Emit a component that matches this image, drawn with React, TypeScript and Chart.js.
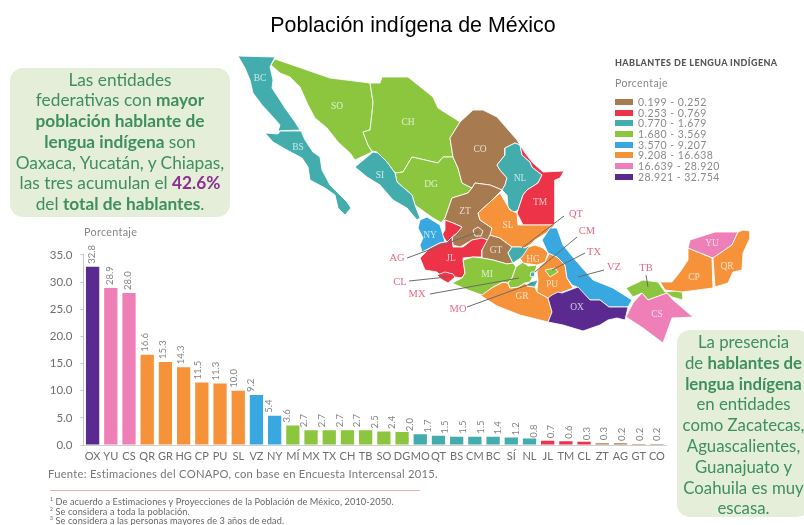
import React, { useEffect, useRef } from "react";
import Chart from "chart.js/auto";

type Pt = [number, number];

// Bar chart: share of indigenous-language speakers per state
const stateCodes = ["OX","YU","CS","QR","GR","HG","CP","PU","SL","VZ","NY","MÍ","MX","TX","CH","TB","SO","DG","MO","QT","BS","CM","BC","SÍ","NL","JL","TM","CL","ZT","AG","GT","CO"];
const speakerShare = [32.8,28.9,28.0,16.6,15.3,14.3,11.5,11.3,10.0,9.2,5.4,3.6,2.7,2.7,2.7,2.7,2.5,2.4,2.0,1.7,1.5,1.5,1.5,1.4,1.2,0.8,0.7,0.6,0.3,0.3,0.2,0.2];
// The printed figures run one entry longer than the bars and are spaced on their own axis
const printedFigures = [32.8,28.9,28.0,16.6,15.3,14.3,11.5,11.3,10.0,9.2,5.4,3.6,2.7,2.7,2.7,2.7,2.5,2.4,2.0,1.7,1.5,1.5,1.5,1.4,1.2,0.8,0.7,0.6,0.3,0.3,0.2,0.2,0.2];
const stateRange = [7,6,6,5,5,5,5,5,5,4,4,3,3,3,3,3,3,3,2,2,2,2,2,2,2,1,1,1,0,0,0,0];

// Legend classes
const rangeLabels = ["0.199 - 0.252","0.253 - 0.769","0.770 - 1.679","1.680 - 3.569","3.570 - 9.207","9.208 - 16.638","16.639 - 28.920","28.921 - 32.754"];
const rangeColors = ["#a87a50","#ec3347","#43adad","#8cc63f","#3aa8e0","#f6933a","#ee7fb7","#5a2a90"];

// State outlines in map units
const BC: Pt[] = [[238,56],[275,57],[270,67],[273,80],[272,88],[285,108],[295,122],[300,130],[278,131],[280,125],[273,117],[262,105],[253,93],[250,80],[245,68]];
const BS: Pt[] = [[265,133],[278,134],[280,131],[301,131],[305,140],[313,152],[320,157],[322,170],[330,185],[340,195],[347,202],[351,208],[345,215],[338,208],[335,195],[325,188],[310,180],[308,167],[302,158],[287,150],[273,142]];
const SO: Pt[] = [[271,65],[275,59],[330,78],[370,83],[373,102],[372,113],[370,130],[363,132],[368,145],[372,152],[355,160],[350,153],[338,142],[327,128],[315,118],[308,105],[300,87],[290,77],[280,73]];
const CH: Pt[] = [[370,83],[380,83],[382,77],[408,77],[433,97],[438,108],[460,122],[450,138],[453,157],[443,157],[438,163],[412,157],[403,172],[395,173],[387,162],[377,152],[372,151],[368,145],[363,132],[370,130],[372,113],[373,102]];
const DG: Pt[] = [[395,173],[403,172],[412,157],[438,163],[443,157],[453,157],[458,168],[462,183],[472,188],[468,193],[452,198],[445,218],[442,223],[433,218],[415,205],[412,195],[397,182]];
const SI: Pt[] = [[355,167],[373,152],[378,153],[387,162],[395,173],[397,182],[412,195],[415,205],[420,218],[417,220],[407,208],[393,200],[380,185],[367,177]];
const CO: Pt[] = [[450,138],[460,122],[473,110],[483,110],[497,117],[517,140],[520,145],[515,143],[505,148],[505,155],[497,165],[500,170],[507,178],[505,185],[502,190],[490,185],[475,183],[472,188],[462,183],[458,168],[453,157]];
const NL: Pt[] = [[497,165],[505,155],[505,148],[515,143],[520,145],[522,155],[530,162],[532,167],[542,175],[538,183],[527,190],[523,195],[518,210],[513,213],[508,207],[507,195],[502,190],[505,185],[507,178],[500,170]];
const TM: Pt[] = [[520,145],[525,153],[533,163],[543,172],[564,171],[560,178],[555,180],[555,225],[523,225],[517,213],[518,210],[523,195],[527,190],[538,183],[542,175],[532,167],[530,162],[522,155]];
const ZT: Pt[] = [[472,188],[475,183],[490,185],[502,190],[490,202],[478,213],[480,220],[492,228],[492,233],[488,240],[472,240],[460,247],[453,245],[452,237],[457,233],[462,227],[453,223],[445,220],[442,222],[445,218],[452,198],[468,193]];
const AG: Pt[] = [[473,230],[478,227],[483,231],[481,236],[475,236]];
const JL_NORTH: Pt[] = [[445,220],[453,223],[462,227],[457,233],[452,237],[447,242],[442,235],[445,230]];
const NY: Pt[] = [[420,220],[427,217],[440,225],[445,242],[440,243],[430,248],[422,252],[420,245],[423,238],[418,228]];
const JL: Pt[] = [[420,258],[430,248],[440,243],[445,242],[447,242],[452,237],[453,247],[463,247],[472,240],[482,238],[488,240],[482,250],[482,257],[473,257],[463,258],[465,273],[462,278],[455,277],[448,283],[437,272],[425,270]];
const CL: Pt[] = [[437,275],[445,272],[453,274],[455,277],[448,283],[441,279]];
const GT: Pt[] = [[490,235],[500,238],[512,247],[508,253],[513,263],[507,264],[493,260],[482,258],[482,250]];
const MI: Pt[] = [[463,260],[473,257],[482,258],[493,260],[507,264],[513,263],[516,267],[512,278],[508,283],[503,282],[493,287],[482,295],[468,290],[452,283],[462,278],[465,273]];
const MX: Pt[] = [[516,267],[523,262],[528,266],[537,265],[535,272],[530,282],[525,283],[518,287],[510,288],[508,283],[512,278]];
const MO: Pt[] = [[530,282],[538,280],[535,287],[527,286]];
const CM: Pt[] = [[531,272],[535,272],[534,277],[530,276]];
const SL: Pt[] = [[500,193],[510,210],[517,213],[518,225],[523,225],[555,225],[548,232],[535,240],[530,245],[525,248],[520,247],[512,247],[500,238],[490,235],[492,228],[480,220],[478,213],[490,202]];
const QT: Pt[] = [[508,253],[512,247],[520,247],[525,248],[530,245],[522,257],[513,263]];
const HG: Pt[] = [[520,258],[525,248],[535,245],[543,248],[548,253],[545,262],[537,265],[523,263]];
const PU: Pt[] = [[550,252],[557,257],[565,265],[567,278],[573,288],[560,293],[548,298],[537,292],[538,280],[537,272],[540,266],[545,262]];
const TX: Pt[] = [[545,270],[555,268],[558,272],[550,277]];
const VZ: Pt[] = [[542,240],[550,228],[557,228],[563,245],[577,262],[593,280],[613,288],[632,300],[628,307],[609,307],[600,300],[590,300],[577,287],[572,285],[567,278],[565,265],[557,257],[548,253]];
const OX: Pt[] = [[548,298],[552,295],[558,292],[562,293],[578,287],[590,300],[600,300],[609,307],[628,307],[625,320],[617,318],[608,320],[600,325],[583,331],[563,325],[548,322],[552,312]];
const GR: Pt[] = [[480,295],[493,287],[503,282],[508,283],[510,288],[518,287],[525,283],[527,286],[535,287],[537,292],[548,298],[552,312],[548,322],[520,315],[497,306]];
const TB: Pt[] = [[626,288],[643,280],[658,282],[665,292],[682,290],[683,300],[672,297],[667,293],[648,300],[642,293],[633,297]];
const CS: Pt[] = [[626,317],[633,303],[642,293],[648,300],[667,293],[673,300],[693,317],[672,318],[663,343],[643,328]];
const CP: Pt[] = [[660,282],[672,282],[680,272],[688,260],[688,248],[712,258],[713,288],[682,292],[665,290]];
const YU: Pt[] = [[688,248],[690,240],[715,232],[738,232],[732,245],[713,258]];
const QR: Pt[] = [[738,232],[743,230],[750,231],[750,238],[743,253],[742,270],[733,272],[728,283],[715,287],[713,258],[732,245]];

// Outline and legend class of each state, drawn bottom to top
const mapShapes: [Pt[], number][] = [
  [BC,2],[BS,2],[SO,3],[CH,3],[DG,3],[SI,2],[CO,0],[ZT,0],[AG,0],[JL_NORTH,1],[NL,2],[TM,1],[NY,4],[JL,1],[CL,1],[GT,0],
  [SL,5],[GR,5],[MI,3],[MX,3],[PU,5],[HG,5],[QT,2],[MO,2],[CM,2],[TX,3],[VZ,4],[OX,7],[TB,3],[CS,6],[CP,5],[YU,6],[QR,5],
];

// State codes printed inside the map
const insideLabels: [string, number, number][] = [
  ["BC",260,78],["SO",337,106],["CH",408,122],["BS",298,147],["SI",380,175],["CO",480,149],["NL",520,178],["DG",431,184],["ZT",465,211],
  ["TM",540,202],["SL",508,225],["NY",430,235],["GT",496,250],["HG",533,259],["JL",451,258],["MI",487,274],["PU",552,284],["GR",522,296],
  ["OX",577,307],["CS",657,314],["YU",712,243],["QR",727,266],["CP",694,277],
];

// Callout codes for the smaller states, with their leader lines
const calloutLabels: [string, number, number][] = [
  ["QT",576,214],["CM",587,231],["TX",594,252],["VZ",614,267],["TB",646,268],["AG",397,258],["CL",400,282],["MX",417,294],["MO",458,309],
];
const leaderLines: [Pt, Pt][] = [
  [[564,216],[522,248]],[[577,237],[535,272]],[[585,253],[552,270]],[[604,270],[578,277]],[[646,275],[648,287]],
  [[407,258],[478,232]],[[409,281],[447,277]],[[430,294],[519,278]],[[467,307],[533,283]],
];

const sans = "Lato, 'Open Sans', sans-serif";
const serif = "'Liberation Serif', serif";

// Rotated figures above the bars, positioned through the hidden second category axis
const figureLabels = {
  id: "figureLabels",
  afterDatasetsDraw(chart: any) {
    const { ctx } = chart;
    const xs = chart.scales.x2;
    const ys = chart.scales.y;
    ctx.save();
    ctx.font = `9.5px ${sans}`;
    ctx.fillStyle = "#858585";
    ctx.textAlign = "left";
    ctx.textBaseline = "middle";
    printedFigures.forEach((v, i) => {
      ctx.save();
      ctx.translate(xs.getPixelForValue(i), ys.getPixelForValue(v) - 3);
      ctx.rotate(-Math.PI / 2);
      ctx.fillText(v.toFixed(1), 0, 0);
      ctx.restore();
    });
    ctx.restore();
  },
};

// Text inside and around the map
const mapLabels = {
  id: "mapLabels",
  afterDatasetsDraw(chart: any) {
    const { ctx, scales } = chart;
    ctx.save();
    ctx.textAlign = "center";
    ctx.textBaseline = "middle";
    ctx.font = `9.5px ${serif}`;
    ctx.fillStyle = "rgba(255,255,255,0.72)";
    insideLabels.forEach(([t, x, y]) => ctx.fillText(t, scales.x.getPixelForValue(x), scales.y.getPixelForValue(y)));
    ctx.font = `10.5px ${serif}`;
    ctx.fillStyle = "#e56a80";
    calloutLabels.forEach(([t, x, y]) => ctx.fillText(t, scales.x.getPixelForValue(x), scales.y.getPixelForValue(y)));
    ctx.restore();
  },
};

const boxText: React.CSSProperties = {
  position: "absolute",
  background: "#e4eed9",
  color: "#3f8e60",
  fontFamily: sans,
  lineHeight: "20.8px",
  textAlign: "center",
  whiteSpace: "nowrap",
};

export default function App() {
  const barRef = useRef<HTMLCanvasElement>(null);
  const mapRef = useRef<HTMLCanvasElement>(null);

  useEffect(() => {
    const bars = new Chart(barRef.current!, {
      type: "bar",
      plugins: [figureLabels],
      data: {
        labels: stateCodes,
        datasets: [
          {
            data: speakerShare,
            backgroundColor: stateRange.map((r) => rangeColors[r]),
            barPercentage: 0.73,
            categoryPercentage: 1,
          },
        ],
      },
      options: {
        animation: false,
        responsive: false,
        layout: { padding: { top: 12.7, right: 14, left: 0, bottom: 0 } },
        plugins: { legend: { display: false }, tooltip: { enabled: false } },
        scales: {
          x: {
            offset: true,
            grid: { display: false, drawTicks: false },
            border: { color: "#cfcfcf" },
            ticks: { color: "#6e6e6e", font: { family: sans, size: 11 }, maxRotation: 0, autoSkip: false, padding: 5 },
            afterFit: (s: any) => { s.height = 20; },
          },
          x2: {
            type: "category",
            display: false,
            offset: true,
            labels: printedFigures.map((_, i) => String(i)),
          },
          y: {
            min: 0,
            max: 35,
            grid: { drawOnChartArea: false, tickLength: 3, color: "#c8c8c8" },
            border: { color: "#c8c8c8" },
            ticks: { stepSize: 5, color: "#6e6e6e", font: { family: sans, size: 11.5 }, padding: 8, callback: (v: any) => Number(v).toFixed(1) },
            afterFit: (s: any) => { s.width = 43.5; },
          },
        },
      } as any,
    });

    const map = new Chart(mapRef.current!, {
      type: "scatter",
      plugins: [mapLabels],
      data: {
        datasets: [
          ...leaderLines.map(([a, b]) => ({
            data: [{ x: a[0], y: a[1] }, { x: b[0], y: b[1] }],
            showLine: true,
            borderColor: "#6a6a6a",
            borderWidth: 1,
            pointRadius: 0,
            fill: false,
          })),
          // Later shapes sit lower in the stack, so the list is reversed
          ...[...mapShapes].reverse().map(([outline, range]) => ({
            data: [...outline, outline[0]].map(([x, y]) => ({ x, y })),
            showLine: true,
            fill: "shape",
            backgroundColor: rangeColors[range],
            borderColor: "rgba(255,255,255,0.85)",
            borderWidth: 1,
            pointRadius: 0,
          })),
        ],
      },
      options: {
        animation: false,
        responsive: false,
        plugins: { legend: { display: false }, tooltip: { enabled: false } },
        scales: {
          x: { display: false, min: 0, max: 804 },
          y: { display: false, min: 0, max: 525, reverse: true },
        },
      } as any,
    });

    return () => {
      bars.destroy();
      map.destroy();
    };
  }, []);

  return (
    <div style={{ position: "absolute", left: 0, top: 0, width: 804, height: 525, overflow: "hidden", background: "#fff" }}>
      <canvas ref={mapRef} width={804} height={525} style={{ position: "absolute", left: 0, top: 0 }} />
      <canvas ref={barRef} width={640} height={225} style={{ position: "absolute", left: 40, top: 240 }} />

      <div style={{ position: "absolute", left: 0, width: 826, top: 12, textAlign: "center", fontFamily: "'Liberation Sans', sans-serif", fontSize: 21.4, lineHeight: "26px", color: "#000" }}>
        Población indígena de México
      </div>

      <div style={{ ...boxText, fontSize: 17.3, left: 10, top: 68, width: 220, height: 149, borderRadius: 13, paddingTop: 1.5, boxSizing: "border-box" }}>
        Las entidades<br />
        federativas con <b>mayor</b><br />
        <b>población hablante de</b><br />
        <b>lengua indígena</b> son<br />
        Oaxaca, Yucatán, y Chiapas,<br />
        las tres acumulan el <b style={{ color: "#8a2f8e" }}>42.6%</b><br />
        del <b>total de hablantes</b>.
      </div>

      <div style={{ ...boxText, fontSize: 16.8, left: 677, top: 330, width: 133, height: 187, borderRadius: 13, paddingTop: 2, boxSizing: "border-box" }}>
        La presencia<br />
        de <b>hablantes de</b><br />
        <b>lengua indígena</b><br />
        en entidades<br />
        como Zacatecas,<br />
        Aguascalientes,<br />
        Guanajuato y<br />
        Coahuila es muy<br />
        escasa.
      </div>

      <div style={{ position: "absolute", left: 615, top: 58, fontFamily: sans, fontWeight: 900, fontSize: 9, lineHeight: "10px", letterSpacing: 0.4, color: "#555", whiteSpace: "nowrap" }}>
        HABLANTES DE LENGUA INDÍGENA
      </div>
      <div style={{ position: "absolute", left: 615, top: 77, fontFamily: sans, fontSize: 10.5, lineHeight: "13px", letterSpacing: 0.4, color: "#888" }}>
        Porcentaje
      </div>
      {rangeLabels.map((label, i) => (
        <div key={label} style={{ position: "absolute", left: 615, top: 96.5 + i * 10.7, height: 10.7, display: "flex", alignItems: "center", whiteSpace: "nowrap" }}>
          <span style={{ width: 18, height: 6, background: rangeColors[i], marginRight: 5 }} />
          <span style={{ fontFamily: sans, fontSize: 10.5, letterSpacing: 0.45, color: "#8a8a8a" }}>{label}</span>
        </div>
      ))}

      <div style={{ position: "absolute", left: 84, top: 226, fontFamily: sans, fontSize: 10.8, lineHeight: "12px", letterSpacing: 0.3, color: "#858585" }}>
        Porcentaje
      </div>

      <div style={{ position: "absolute", left: 48, top: 467, fontFamily: sans, fontSize: 11.2, lineHeight: "14px", letterSpacing: 0.27, color: "#777", whiteSpace: "nowrap" }}>
        Fuente: Estimaciones del CONAPO, con base en Encuesta Intercensal 2015.
      </div>
      <div style={{ position: "absolute", left: 50, top: 490, width: 370, height: 1, background: "#eeb1b1" }} />
      <div style={{ position: "absolute", left: 50, top: 497, fontFamily: sans, fontSize: 9.2, lineHeight: "9.7px", letterSpacing: 0.1, color: "#666", whiteSpace: "nowrap" }}>
        <sup style={{ fontSize: 5, lineHeight: 0 }}>1</sup> De acuerdo a Estimaciones y Proyecciones de la Población de México, 2010-2050.<br />
        <sup style={{ fontSize: 5, lineHeight: 0 }}>2</sup> Se considera a toda la población.<br />
        <sup style={{ fontSize: 5, lineHeight: 0 }}>3</sup> Se considera a las personas mayores de 3 años de edad.
      </div>
    </div>
  );
}
